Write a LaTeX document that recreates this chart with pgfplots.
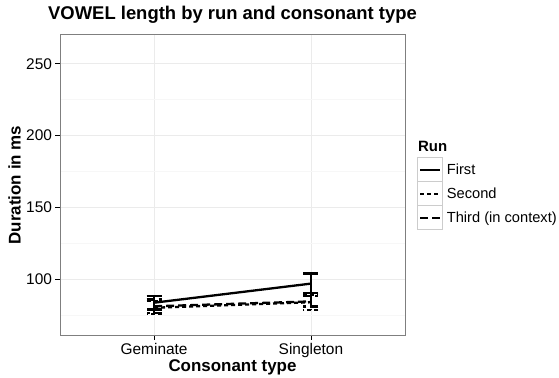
\documentclass[border=0pt]{standalone}
\usepackage{fontspec}
\setmainfont{Liberation Sans}
\usepackage{pgfplots}
\pgfplotsset{compat=1.18}
\definecolor{gridmaj}{HTML}{EBEBEB}
\definecolor{gridmin}{HTML}{F7F7F7}
\definecolor{grey50}{HTML}{7F7F7F}
\definecolor{grey80}{HTML}{CCCCCC}
\begin{document}
\begin{tikzpicture}
\useasboundingbox (0,0) rectangle (559bp,378bp);
\begin{axis}[
  at={(60bp,43bp)}, anchor=south west,
  scale only axis, width=345bp, height=300bp,
  xmin=0.4, xmax=2.6, ymin=61, ymax=270,
  xtick={1,2}, xticklabels={Geminate,Singleton},
  ytick={100,150,200,250},
  minor ytick={75,125,175,225},
  grid=both,
  major grid style={color=gridmaj, line width=0.6bp},
  minor grid style={color=gridmin, line width=0.6bp},
  axis line style={draw=grey50, line width=1bp},
  tick align=outside, major tick length=4.5bp, minor tick length=0pt,
  tick pos=left,
  major tick style={black, line width=0.8bp},
  every tick label/.append style={font=\fontsize{15.5}{18}\selectfont, text=black},
  /pgf/number format/assume math mode=true,
]
\addplot[black, line width=2.3bp, solid,
  error bars/.cd, y dir=both, y explicit,
  error bar style={line width=2.3bp, solid},
  error mark options={rotate=90, mark size=7.5bp, line width=2.3bp, solid}]
  coordinates {(1,83.5) +- (0,4.7) (2,96.8) += (0,7.0) -= (0,6.6)};
\addplot[black, line width=2.3bp, dash pattern=on 4bp off 3bp,
  error bars/.cd, y dir=both, y explicit,
  error bar style={line width=2.3bp, dash pattern=on 4bp off 3bp},
  error mark options={rotate=90, mark size=7.5bp, line width=2.3bp, dash pattern=on 4bp off 3bp}]
  coordinates {(1,80.0) +- (0,4.5) (2,83.8) += (0,5.5) -= (0,5.2)};
\addplot[black, line width=2.3bp, dash pattern=on 8bp off 4bp,
  error bars/.cd, y dir=both, y explicit,
  error bar style={line width=2.3bp, dash pattern=on 8bp off 4bp},
  error mark options={rotate=90, mark size=7.5bp, line width=2.3bp, dash pattern=on 8bp off 4bp}]
  coordinates {(1,81.0) +- (0,4.8) (2,84.4) +- (0,3.6)};
\end{axis}
% titles
\node[font=\bfseries\fontsize{18.5}{22}\selectfont, anchor=base, inner sep=0] at (232.5bp,358.5bp) {VOWEL length by run and consonant type};
\node[font=\bfseries\fontsize{17}{20}\selectfont, anchor=base, inner sep=0] at (232.5bp,7bp) {Consonant type};
\node[font=\bfseries\fontsize{17}{20}\selectfont, anchor=base, rotate=90, inner sep=0] at (20.5bp,193bp) {Duration in ms};
% legend
\node[font=\bfseries\fontsize{15}{18}\selectfont, anchor=base west, inner sep=0] at (418bp,226.3bp) {Run};
\draw[grey80, line width=1bp, fill=white] (417.7bp,196.3bp) rectangle (442.7bp,220.3bp);
\draw[grey80, line width=1bp, fill=white] (417.7bp,172.3bp) rectangle (442.7bp,196.3bp);
\draw[grey80, line width=1bp, fill=white] (417.7bp,148.3bp) rectangle (442.7bp,172.3bp);
\draw[black, line width=2.3bp] (420bp,208.3bp) -- (440bp,208.3bp);
\draw[black, line width=2.3bp, dash pattern=on 4bp off 3bp] (420bp,184.3bp) -- (440bp,184.3bp);
\draw[black, line width=2.3bp, dash pattern=on 8bp off 4bp] (420bp,160.3bp) -- (440bp,160.3bp);
\node[font=\fontsize{14.7}{17}\selectfont, anchor=base west, inner sep=0] at (446.7bp,203bp) {First};
\node[font=\fontsize{14.7}{17}\selectfont, anchor=base west, inner sep=0] at (446.7bp,179bp) {Second};
\node[font=\fontsize{14.7}{17}\selectfont, anchor=base west, inner sep=0] at (446.7bp,155bp) {Third (in context)};
\end{tikzpicture}
\end{document}
